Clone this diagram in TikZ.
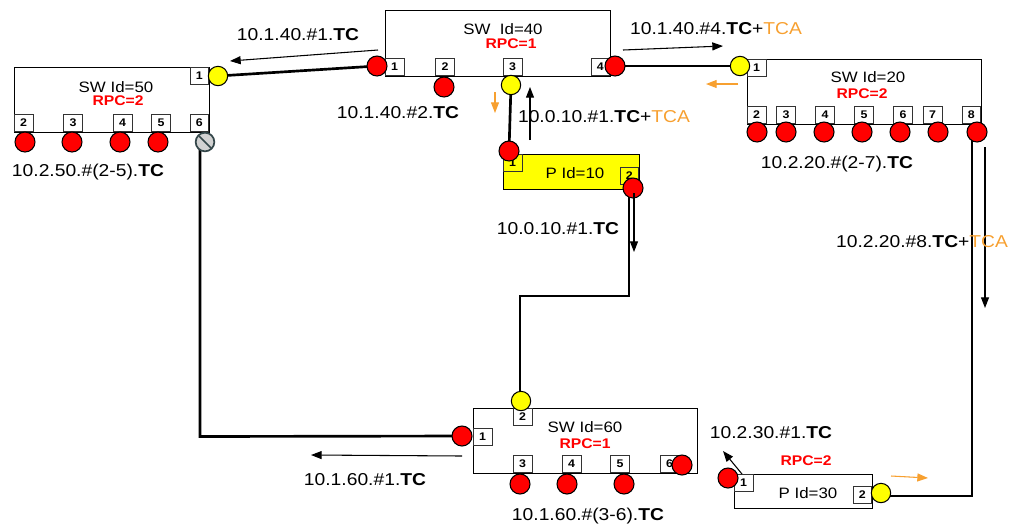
\documentclass[tikz,border=0pt]{standalone}
\usepackage{fontspec}
\setmainfont[FakeStretch=1.12]{Liberation Sans}
\usetikzlibrary{arrows.meta}
\definecolor{tca}{HTML}{F7A030}
\definecolor{rpcred}{HTML}{FF0000}
\definecolor{pyel}{HTML}{FFFF00}
\definecolor{slate}{HTML}{34474A}
\pgfdeclarelayer{bg}\pgfsetlayers{bg,main}
\tikzset{
 dev/.style={draw=black, line width=1.1pt, fill=white, anchor=north west, inner sep=0},
 pbox/.style={draw=black!80, line width=0.5pt, fill=white, minimum width=14pt, minimum height=13pt, inner sep=0, font=\fontsize{8.3}{9}\selectfont\bfseries},
 rdot/.style={circle, draw=black, line width=0.8pt, fill=red, minimum size=15pt, inner sep=0},
 ydot/.style={circle, draw=black, line width=0.8pt, fill=pyel, minimum size=14.5pt, inner sep=0},
 lbl/.style={inner sep=0, font=\fontsize{12.9}{15}\selectfont},
 dlbl/.style={inner sep=0, font=\fontsize{11.3}{13}\selectfont},
 rpc/.style={inner sep=0, text=rpcred, font=\fontsize{10.5}{12}\selectfont\bfseries},
 link/.style={line width=2pt},
 flow/.style={line width=0.8pt, -{Triangle[length=8pt,width=6pt]}},
 oflow/.style={flow, draw=tca, fill=tca},
}
\begin{document}
\begin{tikzpicture}[x=0.75pt, y=-0.75pt]
\useasboundingbox (0,0) rectangle (1013,526);

% ---------- SW Id=50
\node[dev, minimum width=146.25pt, minimum height=48.75pt] (sw50) at (14,67) {};
\node[dlbl] (sw50t) at (116,87) {SW Id=50};
\node[rpc] (sw50r) at (118,101) {RPC=2};
\node[pbox, anchor=north east] (sw50p1) at (209,67) {1};
\node[pbox, anchor=south west] (sw50p2) at (14,132) {2};
\node[pbox, anchor=south] (sw50p3) at (73,132) {3};
\node[pbox, anchor=south] (sw50p4) at (122.5,132) {4};
\node[pbox, anchor=south] (sw50p5) at (161,132) {5};
\node[pbox, anchor=south east] (sw50p6) at (209,132) {6};
\node[rdot] (sw50r2) at (25,142) {};
\node[rdot] (sw50r3) at (72,142) {};
\node[rdot] (sw50r4) at (120,142) {};
\node[rdot] (sw50r5) at (158,142) {};
\node[ydot] (sw50y1) at (218,76) {};
\node[circle, draw=slate, line width=1.3pt, fill=gray!35, minimum size=14pt, inner sep=0] (sw50n6) at (205,142) {};
\draw[slate, line width=1.3pt] (sw50n6.center) ++(-6,-6) -- ++(12,12);

% ---------- SW Id=40
\node[dev, minimum width=168.75pt, minimum height=49.5pt] (sw40) at (385,10) {};
\node[dlbl] (sw40t) at (503,29) {SW\ \ Id=40};
\node[rpc] (sw40r) at (511,44) {RPC=1};
\node[pbox, anchor=south west] (sw40p1) at (385,76) {1};
\node[pbox, anchor=south] (sw40p2) at (445,76) {2};
\node[pbox, anchor=south] (sw40p3) at (512.5,76) {3};
\node[pbox, anchor=south east] (sw40p4) at (610,76) {4};
\node[rdot] (sw40r1) at (377,66) {};
\node[rdot] (sw40r2) at (444,87) {};
\node[ydot] (sw40y3) at (511,85) {};
\node[rdot] (sw40r4) at (615,66) {};

% ---------- SW Id=20
\node[dev, minimum width=175.5pt, minimum height=48.75pt] (sw20) at (747,59) {};
\node[dlbl] (sw20t) at (868,77) {SW Id=20};
\node[rpc] (sw20r) at (862,94) {RPC=2};
\node[pbox, anchor=north west] (sw20p1) at (747,59) {1};
\node[pbox, anchor=south west] (sw20p2) at (747,124) {2};
\node[pbox, anchor=south] (sw20p3) at (786,124) {3};
\node[pbox, anchor=south] (sw20p4) at (825,124) {4};
\node[pbox, anchor=south] (sw20p5) at (864,124) {5};
\node[pbox, anchor=south] (sw20p6) at (903,124) {6};
\node[pbox, anchor=south] (sw20p7) at (932.5,124) {7};
\node[pbox, anchor=south east] (sw20p8) at (981,124) {8};
\node[ydot] (sw20y1) at (740,66) {};
\node[rdot] (sw20r2) at (757,132) {};
\node[rdot] (sw20r3) at (786,132) {};
\node[rdot] (sw20r4) at (824,132) {};
\node[rdot] (sw20r5) at (862,132) {};
\node[rdot] (sw20r6) at (900,132) {};
\node[rdot] (sw20r7) at (938,132) {};
\node[rdot] (sw20r8) at (977,132) {};

% ---------- P Id=10
\node[dev, fill=pyel, minimum width=102pt, minimum height=26.25pt] (p10) at (503,154) {};
\node[dlbl] (p10t) at (575,173) {P Id=10};
\node[pbox, fill=pyel, anchor=north west] (p10p1) at (503,154) {1};
\node[pbox, fill=pyel, anchor=east] (p10p2) at (639,175.5) {2};
\node[rdot] (p10r1) at (509,151) {};
\node[rdot] (p10r2) at (633,188) {};

% ---------- SW Id=60
\node[dev, minimum width=168pt, minimum height=48.75pt] (sw60) at (473,408) {};
\node[dlbl] (sw60t) at (585,427) {SW Id=60};
\node[rpc] (sw60r) at (585,444) {RPC=1};
\node[pbox, anchor=north] (sw60p2) at (522.5,408) {2};
\node[pbox, anchor=west] (sw60p1) at (473,436.5) {1};
\node[pbox, anchor=south] (sw60p3) at (522.5,473) {3};
\node[pbox, anchor=south] (sw60p4) at (571.5,473) {4};
\node[pbox, anchor=south] (sw60p5) at (620,473) {5};
\node[pbox, anchor=south] (sw60p6) at (669.5,473) {6};
\node[ydot] (sw60y2) at (521,401) {};
\node[rdot] (sw60r1) at (462,436) {};
\node[rdot] (sw60r3) at (520,484) {};
\node[rdot] (sw60r4) at (567,484) {};
\node[rdot] (sw60r5) at (624,484) {};
\node[rdot] (sw60r6) at (682,465) {};

% ---------- P Id=30
\node[dev, minimum width=103.5pt, minimum height=25.5pt] (p30) at (734,474) {};
\node[dlbl] (p30t) at (808,493) {P Id=30};
\node[rpc] (p30r) at (806,461) {RPC=2};
\node[pbox, anchor=north west] (p30p1) at (734,474) {1};
\node[pbox, anchor=east] (p30p2) at (872,495) {2};
\node[rdot] (p30r1) at (728,478) {};
\node[ydot] (p30y2) at (881,493) {};

% ---------- links
\coordinate (k1) at (629,296);
\coordinate (k2) at (520,296);
\coordinate (k3) at (200,436.5);
\coordinate (k4) at (972,496);
\begin{pgfonlayer}{bg}
\draw[link] (sw50y1.center) -- (sw40r1.center);
\draw[link] (sw40r4.center) -- (sw20y1.center);
\draw[link] (sw40y3.center) -- (p10r1.center);
\draw[link] (p10r2.center -| k1) -- (k1) -- (k2) -- (k2 |- sw60y2.center);
\draw[link] (sw60r1.center) -- (k3) -- (k3 |- sw50n6.center);
\draw[link] (sw20r8.center -| k4) -- (k4) -- (p30y2.center |- k4);
\end{pgfonlayer}

% ---------- flow arrows
\coordinate (a1s) at (378,50); \coordinate (a1e) at (230,61);
\coordinate (a2s) at (623,50); \coordinate (a2e) at (723,46);
\coordinate (a3s) at (738,84); \coordinate (a3e) at (706,84);
\coordinate (a4s) at (495,92); \coordinate (a4e) at (495,113);
\coordinate (a5s) at (530,140); \coordinate (a5e) at (530,87);
\coordinate (a6s) at (634,193); \coordinate (a6e) at (634,252);
\coordinate (a7s) at (985,147); \coordinate (a7e) at (985,308);
\coordinate (a8s) at (462,456); \coordinate (a8e) at (311,455);
\coordinate (a9s) at (742,474); \coordinate (a9e) at (723,451);
\coordinate (a10s) at (891,476); \coordinate (a10e) at (928,478);
\draw[flow] (a1s) -- (a1e);
\draw[flow] (a2s) -- (a2e);
\draw[oflow] (a3s) -- (a3e);
\draw[oflow] (a4s) -- (a4e);
\draw[flow] (a5s) -- (a5e);
\draw[flow] (a6s) -- (a6e);
\draw[flow] (a7s) -- (a7e);
\draw[flow] (a8s) -- (a8e);
\draw[flow] (a9s) -- (a9e);
\draw[oflow] (a10s) -- (a10e);

% ---------- labels
\node[lbl] (l1) at (298,35) {10.1.40.\#1.\textbf{TC}};
\node[lbl] (l2) at (398,113) {10.1.40.\#2.\textbf{TC}};
\node[lbl] (l3) at (88,172) {10.2.50.\#(2-5).\textbf{TC}};
\node[lbl] (l4) at (604,117) {10.0.10.\#1.\textbf{TC}+\textcolor{tca}{TCA}};
\node[lbl] (l5) at (716,29) {10.1.40.\#4.\textbf{TC}+\textcolor{tca}{TCA}};
\node[lbl] (l6) at (837,164) {10.2.20.\#(2-7).\textbf{TC}};
\node[lbl] (l7) at (558,229) {10.0.10.\#1.\textbf{TC}};
\node[lbl] (l8) at (922,242) {10.2.20.\#8.\textbf{TC}+\textcolor{tca}{TCA}};
\node[lbl] (l9) at (365,480) {10.1.60.\#1.\textbf{TC}};
\node[lbl] (l10) at (588,516) {10.1.60.\#(3-6).\textbf{TC}};
\node[lbl] (l11) at (771,433) {10.2.30.\#1.\textbf{TC}};
\end{tikzpicture}
\end{document}
